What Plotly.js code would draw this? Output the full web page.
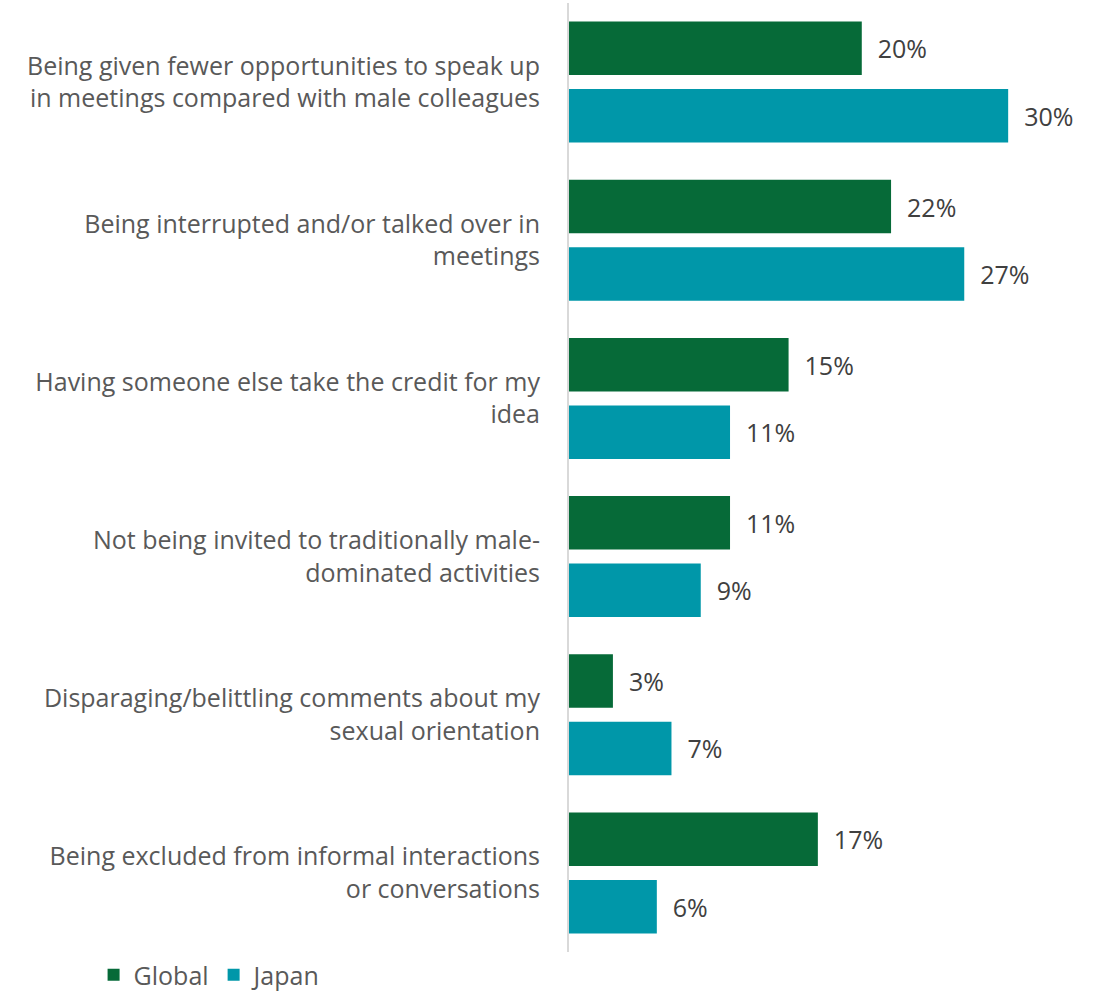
<!DOCTYPE html>
<html>
<head>
<meta charset="utf-8">
<script src="https://cdn.plot.ly/plotly-3.0.1.min.js"></script>
<style>html,body{margin:0;padding:0;background:#fff;}#chart{width:1101px;height:997px;}</style>
</head>
<body>
<div id="chart"></div>
<script>
const categories = [
  "Being given fewer opportunities to speak up<br>in meetings compared with male colleagues",
  "Being interrupted and/or talked over in<br>meetings",
  "Having someone else take the credit for my<br>idea",
  "Not being invited to traditionally male-<br>dominated activities",
  "Disparaging/belittling comments about my<br>sexual orientation",
  "Being excluded from informal interactions<br>or conversations"
];
const globalValues = [20, 22, 15, 11, 3, 17];
const japanValues = [30, 27, 11, 9, 7, 6];
const seriesNames = ["Global", "Japan"];

const labelFont = {family: "Open Sans, sans-serif", size: 25, color: "#404040"};
function trace(name, vals, color) {
  return {
    type: "bar", orientation: "h", name: name,
    y: categories, x: vals,
    marker: {color: color},
    text: vals.map(v => v + "%"),
    texttemplate: "\u00a0\u00a0%{text}",
    textposition: "outside",
    textfont: labelFont,
    constraintext: "none",
    cliponaxis: false,
    hoverinfo: "skip"
  };
}
const data = [
  trace(seriesNames[0], globalValues, "#066A38"),
  trace(seriesNames[1], japanValues, "#0097A9")
];
const layout = {
  width: 1101, height: 997,
  margin: {l: 569, r: 5, t: 3, b: 45},
  paper_bgcolor: "#fff", plot_bgcolor: "#fff",
  barmode: "group", bargap: 0.147, bargroupgap: 0.207,
  font: {family: "Open Sans, sans-serif", size: 25, color: "#595959"},
  xaxis: {range: [0, 36], showgrid: false, zeroline: false, showticklabels: false, showline: false, fixedrange: true},
  yaxis: {autorange: "reversed", showgrid: false, zeroline: false, showline: true, linecolor: "#D9D9D9", linewidth: 2,
          ticks: "", ticklabelstandoff: 22, tickfont: {family: "Open Sans, sans-serif", size: 25, color: "#595959"}},
  showlegend: true,
  legend: {orientation: "h", xref: "container", yref: "container", x: 0.085, xanchor: "left", y: 0.022, yanchor: "middle",
           font: {family: "Open Sans, sans-serif", size: 25, color: "#595959"}, itemwidth: 30, traceorder: "normal"}
};
Plotly.newPlot("chart", data, layout, {displayModeBar: false, staticPlot: true});
</script>
</body>
</html>
